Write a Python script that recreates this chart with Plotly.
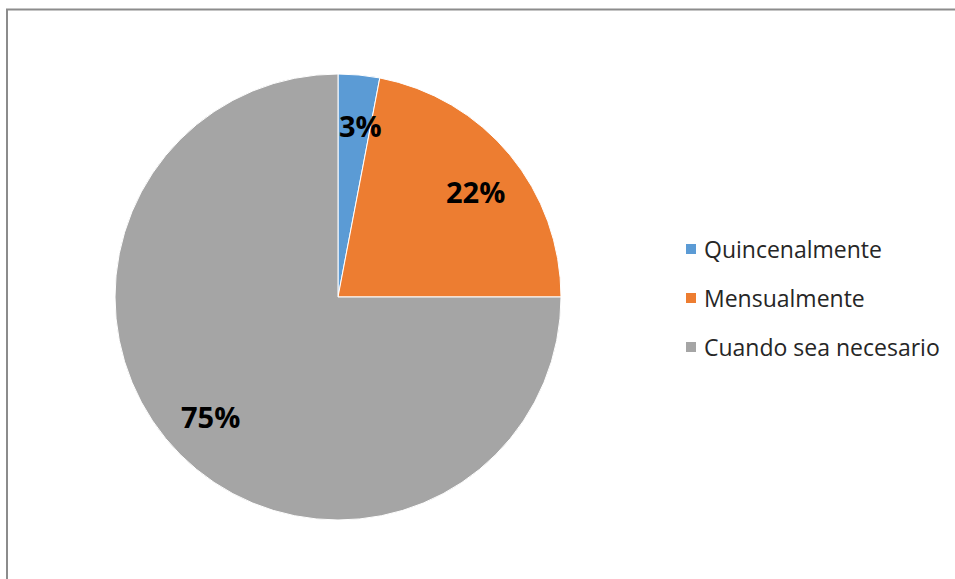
import math
import plotly.graph_objects as go

# Survey answers: how often the task is done
categories = ["Quincenalmente", "Mensualmente", "Cuando sea necesario"]
percentages = [3, 22, 75]
colors = ["#5B9BD5", "#ED7D31", "#A5A5A5"]

W, H = 955, 579
cx, cy, R = 338, 297, 223  # pie centre and radius in pixels


def px(x):
    return x / W


def py(y):
    return 1 - y / H


fig = go.Figure()
fig.add_trace(go.Pie(
    labels=categories,
    values=percentages,
    sort=False,
    direction="clockwise",
    rotation=0,
    marker=dict(colors=colors, line=dict(color="white", width=1)),
    textinfo="none",
    hoverinfo="label+percent",
    showlegend=False,
    domain=dict(x=[px(cx - R), px(cx + R)], y=[py(cy + R), py(cy - R)]),
))

annotations = []
shapes = []

# Percentage labels placed along each slice's mid-angle
total = sum(percentages)
cum = 0
for v in percentages:
    mid = (cum + v / 2) / total * 2 * math.pi + math.radians(2)
    cum += v
    r = 0.78 * R
    lx = cx + r * math.sin(mid)
    ly = cy - r * math.cos(mid)
    annotations.append(dict(
        x=px(lx), y=py(ly + 1), xref="paper", yref="paper",
        text=f"<b>{v}%</b>", showarrow=False,
        font=dict(family="Open Sans", size=29, color="#000000"),
        xanchor="center", yanchor="middle",
    ))

# Legend: coloured squares with category names
leg_y0, leg_step = 248, 49
for i, (name, col) in enumerate(zip(categories, colors)):
    yc = leg_y0 + i * leg_step
    shapes.append(dict(
        type="rect", xref="paper", yref="paper",
        x0=px(686), x1=px(696), y0=py(yc - 4), y1=py(yc + 6),
        fillcolor=col, line=dict(width=0),
    ))
    annotations.append(dict(
        x=px(702), y=py(yc + 1), xref="paper", yref="paper",
        text=name, showarrow=False,
        font=dict(family="Open Sans", size=23, color="#262626"),
        xanchor="left", yanchor="middle",
    ))

# Chart frame (top and left edges)
shapes.append(dict(type="line", xref="paper", yref="paper",
                   x0=px(6), x1=1.0, y0=py(9.5), y1=py(9.5),
                   line=dict(color="#8C8C8C", width=2)))
shapes.append(dict(type="line", xref="paper", yref="paper",
                   x0=px(7), x1=px(7), y0=0.0, y1=py(9),
                   line=dict(color="#8C8C8C", width=2)))

fig.update_layout(
    width=W, height=H,
    margin=dict(l=0, r=0, t=0, b=0),
    paper_bgcolor="white", plot_bgcolor="white",
    annotations=annotations, shapes=shapes,
)

fig.write_html("out.html")
